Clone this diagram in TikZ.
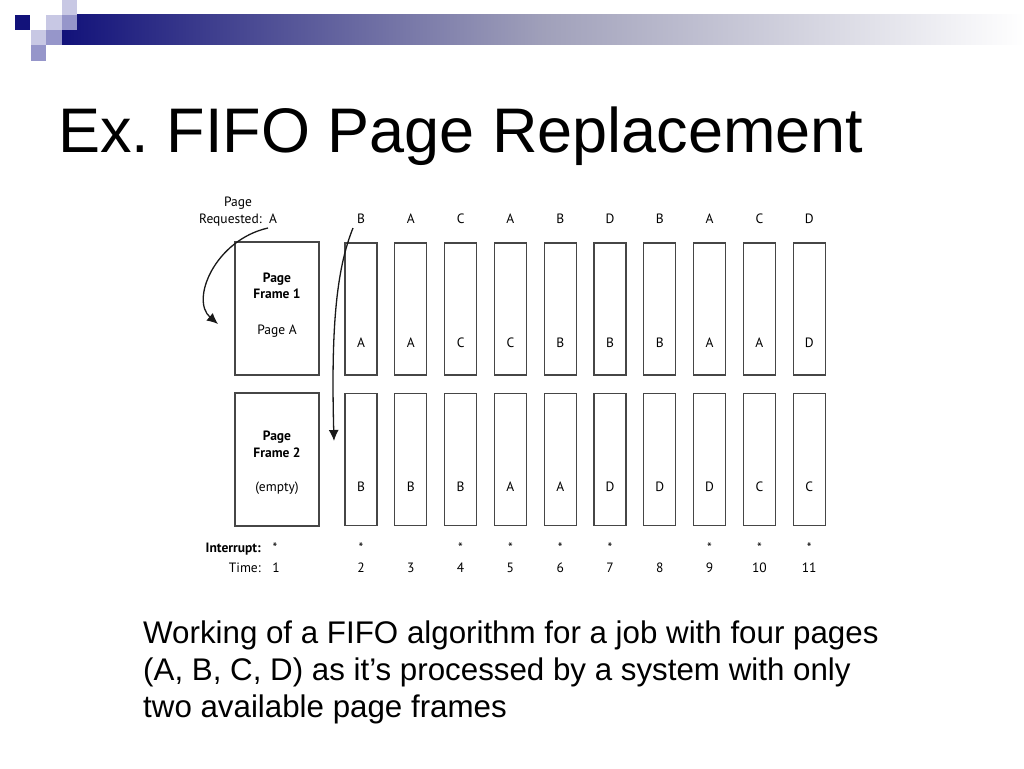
\documentclass[tikz,border=0pt]{standalone}
\usepackage{fontspec}
\setmainfont{Liberation Sans}
\newfontfamily\figfont{PT Sans}
\usetikzlibrary{arrows,arrows.meta}
\usetikzlibrary{positioning}
\definecolor{navy}{RGB}{18,18,122}
\definecolor{lav}{RGB}{200,200,228}
\definecolor{midlav}{RGB}{150,150,202}
\definecolor{boxgray}{RGB}{70,70,70}
\tikzstyle{frame} = [rectangle, draw=boxgray, line width=1.2pt, minimum width=84pt, minimum height=133pt, inner sep=0pt]
\tikzstyle{slot} = [rectangle, draw=boxgray, line width=1.2pt, minimum width=32pt, minimum height=132pt, inner sep=0pt]
\tikzstyle{fig} = [font=\figfont\fontsize{13.5}{16}\selectfont, inner sep=0pt, anchor=base]
\tikzstyle{figb} = [font=\figfont\bfseries\fontsize{13.5}{16}\selectfont, inner sep=0pt, anchor=base]
\tikzstyle{move} = [-{Latex[length=11pt,width=10pt]}, line width=1.3pt, draw=black!90]

\begin{document}
\frenchspacing
\begin{tikzpicture}[x=1pt, y=-1pt]
\fill[white] (0,0) rectangle (1024,768);
\useasboundingbox (0,0) rectangle (1024,768);

% header bar and squares
\shade[left color=navy, right color=white, middle color={rgb,255:red,160;green,160;blue,186}] (62,15) rectangle (1024,45);
\fill[navy] (15,15) rectangle +(15,15);
\fill[lav] (62,0) rectangle +(15,15);
\fill[lav] (46,15) rectangle +(16,15);
\fill[midlav] (62,15) rectangle +(15,15);
\fill[lav] (31,30) rectangle +(15,15);
\fill[midlav] (46,30) rectangle +(16,15);
\fill[midlav] (31,45) rectangle +(15,16);

\node (title) [anchor=base west, inner sep=0pt, font=\fontsize{63}{70}\selectfont] at (58,152) {Ex. FIFO Page Replacement};

% page frames
\node (pg) [fig] at (238,206) {Page};
\node (req) [fig, anchor=base east] at (262,223) {Requested:};
\node (q1) [fig] at (273,223) {A};

\node (f1) [frame] at (277,308.5) {};
\node (f1a) [figb] at (277,282) {Page};
\node (f1b) [figb] at (277,298) {Frame 1};
\node (f1c) [fig] at (277,334) {Page A};

\node (f2) [frame] at (277,459.5) {};
\node (f2a) [figb] at (277,440) {Page};
\node (f2b) [figb] at (277,457) {Frame 2};
\node (f2c) [fig] at (277,491) {(empty)};

\node (intr) [figb, anchor=base east] at (261,552) {Interrupt:};
\node (time) [fig, anchor=base east] at (261,572) {Time:};
\node (s1) [fig] at (275,552) {*};
\node (n1) [fig] at (276,572) {1};

% one column per time step
\foreach \i/\r/\u/\l in {2/B/A/B, 3/A/A/B, 4/C/C/B, 5/A/C/A, 6/B/B/A, 7/D/B/D, 8/B/B/D, 9/A/A/D, 10/C/A/C, 11/D/D/C} {
  \node (q\i) [fig] at ({361+49.8*(\i-2)},223) {\r};
  \node (t\i) [slot] at ({361+49.8*(\i-2)},309) {};
  \node (tl\i) [fig] at ({361+49.8*(\i-2)},347) {\u};
  \node (b\i) [slot] at ({361+49.8*(\i-2)},459.5) {};
  \node (bl\i) [fig] at ({361+49.8*(\i-2)},491) {\l};
  \node (n\i) [fig] at ({361+49.8*(\i-2)},572) {\i};
}
\foreach \i in {2,4,5,6,7,9,10,11}
  \node (s\i) [fig] at ({361+49.8*(\i-2)},552) {*};

\coordinate (e1) at (218,324);
\coordinate (e2) at (334,441);
\draw[move] ([shift={(-5pt,-5pt)}]q1.base) .. controls (215,240) and (190,300) .. (e1);
\draw[move] ([shift={(-8pt,-5pt)}]q2.base) .. controls (336,270) and (331,330) .. (e2);

\node (caption) [anchor=north west, align=left, inner sep=0pt, font=\fontsize{31.3}{37}\selectfont] at (143,621) {Working of a FIFO algorithm for a job with four pages\\(A, B, C, D) as it’s processed by a system with only\\two available page frames};
\end{tikzpicture}
\end{document}
